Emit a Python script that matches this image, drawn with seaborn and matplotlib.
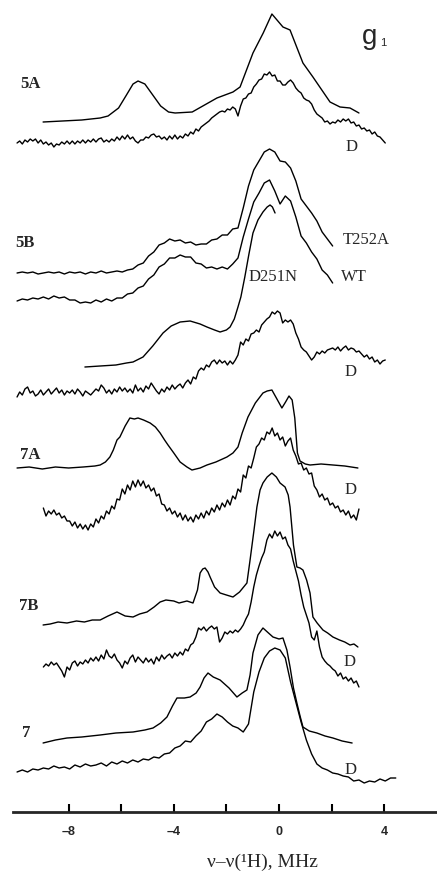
import numpy as np
import matplotlib
matplotlib.use("Agg")
import matplotlib.pyplot as plt
import seaborn as sns

# ---------------- data (frequency offset in MHz, signal in arbitrary units) -------------
sample_labels = ["5A", "5B", "7A", "7B", "7"]
trace_labels = ["D", "T252A", "WT", "D251N", "D", "D", "D", "D"]
tick_values = [-8, -6, -4, -2, 0, 2, 4]
tick_labels = ["\u20138", "", "\u20134", "", "0", "", "4"]

# 5A (upper, smooth)
s5A_x = [-8.97, -7.5, -6.8, -6.5, -6.1, -5.8, -5.55, -5.36, -5.1, -4.8, -4.5, -4.2, -3.95,
         -3.3, -2.36, -1.75, -1.48, -0.99, -0.6, -0.27, 0.15, 0.42, 0.91, 1.29, 1.94, 2.32,
         2.7, 3.04]
s5A_y = [0, 2, 4, 6, 14, 27, 38, 41, 38, 27, 16, 10, 9, 10, 24, 30, 35, 69, 89, 108, 95, 92,
         59, 45, 20, 15, 14, 9]
# 5A deuterated (evenly sampled from -9.96 to 4.04 MHz)
s5A_D_range = (-9.96, 4.04)
s5A_D_y = [0, 2, -1, 3, 1, 4, 2, 4, 0, 3, -1, 1, -2, 0, -4, -1, -2, 1, -1, 2,
           -1, 2, -1, 2, 0, 3, 0, 3, 1, 4, 1, 4, 5, 1, 3, 1, 4, 2, 6, 3,
           7, 4, 8, 4, 6, 2, 0, 3, 3, 6, 5, 8, 9, 6, 7, 4, 6, 3, 7, 4,
           8, 4, 7, 5, 9, 7, 11, 9, 14, 12, 16, 18, 20, 22, 25, 27, 29, 31, 32, 31,
           34, 33, 36, 34, 27, 37, 44, 45, 49, 50, 56, 59, 63, 64, 69, 68, 71, 67, 68, 62,
           62, 58, 58, 61, 63, 60, 55, 52, 50, 45, 43, 42, 39, 33, 29, 27, 25, 21, 22, 19,
           21, 20, 23, 21, 24, 22, 24, 20, 21, 17, 18, 14, 15, 12, 13, 9, 11, 7, 6, 3,
           0]
# 5B T252A (-9.96 .. 2.04)
s5B_T252A_range = (-9.96, 2.04)
s5B_T252A_y = [0, 1, 0, 1, -1, 0, 1, 0, 1, -1, 1, 0, 1, -1, 1, 0, 2, 0, 1, 2,
               1, 3, 4, 8, 10, 17, 21, 28, 30, 34, 32, 33, 30, 31, 28, 29, 29, 33, 34, 38,
               38, 44, 45, 65, 87, 103, 112, 121, 124, 121, 112, 111, 105, 92, 74, 67, 60, 52, 41, 34,
               27]
# 5B WT (-9.96 .. 2.04)
s5B_WT_range = (-9.96, 2.04)
s5B_WT_y = [-1, 1, 0, 2, 1, 3, 1, 4, 2, 3, 0, 0, -3, -2, -3, 0, -2, 1, -1, 2,
            2, 6, 7, 12, 14, 21, 25, 33, 36, 42, 42, 45, 43, 43, 37, 36, 32, 33, 31, 33,
            31, 36, 42, 63, 81, 98, 107, 117, 120, 109, 96, 104, 99, 83, 64, 57, 48, 41, 30, 25,
            17]
# 5B D251N (smooth)
s5B_D251N_x = [-7.38, -6.8, -6.2, -5.8, -5.55, -5.17, -4.8, -4.41, -4.1, -3.76, -3.38, -3.0,
               -2.74, -2.45, -2.24, -2.0, -1.86, -1.7, -1.56, -1.45, -1.3, -1.15, -0.99, -0.8,
               -0.61, -0.45, -0.34, -0.25, -0.15]
s5B_D251N_y = [0, 1, 2, 4, 5, 10, 21, 34, 41, 45, 46, 43, 40, 37, 35, 37, 40, 48, 60, 70, 90,
               112, 134, 147, 155, 160, 162, 160, 154]
# 5B deuterated (-9.96 .. 4.04)
s5B_D_range = (-9.96, 4.04)
s5B_D_y = [0, 5, 2, 8, 10, 4, 6, 1, 3, 7, 2,
           5, 8, 3, 6, 9, 4, 7, 2, 6, 4,
           7, 3, 8, 5, 1, 6, 4, 2, 5, 8,
           6, 12, 9, 4, 7, 3, 8, 5, 10, 6,
           9, 5, 8, 4, 12, 6, 9, 5, 11, 8,
           14, 10, 6, 3, 8, 5, 10, 7, 12, 8,
           11, 13, 9, 14, 17, 13, 20, 18, 26, 29,
           27, 32, 30, 35, 37, 33, 37, 34, 36, 32,
           36, 33, 37, 42, 55, 52, 58, 56, 63, 64,
           67, 65, 72, 75, 78, 80, 85, 83, 86, 84,
           74, 77, 75, 77, 73, 64, 58, 50, 47, 45,
           41, 37, 40, 45, 43, 46, 44, 47, 48, 49,
           47, 50, 46, 49, 51, 47, 49, 48, 45, 46,
           43, 40, 42, 38, 40, 35, 37, 33, 36, 37]
# 7A (smooth)
s7A_x = [-9.96, -9.5, -9.0, -8.5, -8.0, -7.45, -7.0, -6.8, -6.6, -6.43, -6.3, -6.16, -6.05,
         -5.85, -5.67, -5.5, -5.36, -5.15, -4.9, -4.7, -4.52, -4.35, -4.22, -4.0, -3.76, -3.5,
         -3.31, -3.0, -2.74, -2.4, -1.98, -1.75, -1.56, -1.4, -1.18, -0.9, -0.61, -0.45, -0.27,
         -0.1, 0.11, 0.25, 0.38, 0.5, 0.6, 0.7, 0.8, 1.0, 1.18, 1.6, 2.05, 2.5, 3.0]
s7A_y = [0, 1, -1, 1, 0, 1, 2, 3, 6, 11, 18, 28, 31, 42, 50, 49, 50, 48, 45, 41, 35, 28, 23,
         15, 6, 1, -2, 0, 3, 6, 11, 15, 21, 35, 51, 65, 75, 77, 78, 70, 60, 66, 72, 68, 50,
         15, 7, 4, 3, 4, 3, 2, 0]
# 7A deuterated (-8.96 .. 3.04)
s7A_D_range = (-8.96, 3.04)
s7A_D_y = [0, -8, -3, -6, -2, -7, -5, -10, -8, -13,
           -13, -18, -14, -20, -16, -21, -17, -22, -16, -19,
           -11, -15, -8, -11, -3, -6, 2, -1, 9, 8,
           19, 14, 23, 18, 27, 21, 28, 22, 27, 20,
           23, 17, 20, 12, 14, 4, 3, -3, 0, -6,
           -3, -9, -5, -12, -7, -13, -9, -14, -7, -11,
           -5, -10, -3, -7, 0, -4, 3, -2, 5, 1,
           8, 3, 12, 9, 19, 16, 33, 30, 42, 40,
           50, 61, 64, 70, 68, 76, 74, 80, 72, 75,
           68, 71, 62, 67, 70, 58, 52, 44, 45, 38,
           40, 34, 35, 22, 18, 11, 14, 8, 10, 3,
           5, 0, 2, -4, -2, -7, -3, -10, -7, -12,
           -1]
# 7B (upper)
s7B_x = [-8.97, -8.7, -8.4, -8.06, -7.7, -7.4, -7.1, -6.8, -6.5, -6.16, -5.85, -5.55, -5.3,
         -5.02, -4.75, -4.52, -4.3, -4.0, -3.8, -3.5, -3.27, -3.1, -3.0, -2.9, -2.81, -2.7,
         -2.62, -2.45, -2.24, -2.0, -1.75, -1.5, -1.22, -1.1, -0.95, -0.84, -0.72, -0.61, -0.45,
         -0.27, -0.1, 0.04, 0.23, 0.35, 0.42, 0.55, 0.68, 0.8, 0.91, 1.05, 1.18, 1.29, 1.45,
         1.67, 1.85, 2.05, 2.3, 2.5, 2.7, 2.85, 3.0]
s7B_y = [0, 1, 3, 2, 4, 3, 5, 5, 9, 13, 9, 8, 11, 13, 18, 23, 25, 24, 22, 24, 22, 35, 52, 56,
         57, 53, 48, 38, 32, 30, 28, 33, 42, 65, 95, 118, 135, 142, 148, 152, 148, 142, 138,
         130, 118, 80, 58, 57, 55, 45, 32, 8, 2, -5, -8, -12, -15, -17, -20, -19, -22]
# 7B deuterated (-8.96 .. 3.04)
s7B_D_range = (-8.96, 3.04)
s7B_D_y = [0, 3, 1, 5, 2, 4, 0, -4, -10, 0,
           -3, 4, 6, 1, 5, 3, 7, 4, 9, 6,
           10, 6, 12, 8, 17, 11, 9, 13, 7, 4,
           -1, 6, 3, 9, 12, 5, 10, 7, 4, 9,
           5, 8, 3, 10, 6, 12, 8, 11, 13, 9,
           14, 11, 15, 12, 18, 16, 22, 24, 30, 39,
           37, 40, 36, 39, 41, 38, 40, 25, 29, 35,
           33, 36, 34, 37, 35, 38, 42, 48, 53, 65,
           80, 92, 101, 109, 115, 127, 133, 129, 136, 131,
           135, 128, 130, 122, 118, 106, 96, 86, 72, 60,
           52, 44, 30, 27, 36, 20, 10, 6, 3, 1,
           -2, -4, -9, -6, -12, -10, -14, -11, -16, -14,
           -20]
# 7 (upper)
s7_x = [-8.97, -8.5, -8.06, -7.5, -6.8, -6.2, -5.55, -5.1, -4.79, -4.5, -4.26, -4.05, -3.88,
        -3.6, -3.38, -3.15, -3.0, -2.85, -2.7, -2.5, -2.24, -1.9, -1.6, -1.4, -1.22, -1.1,
        -0.99, -0.8, -0.61, -0.4, -0.23, 0.0, 0.15, 0.3, 0.42, 0.55, 0.68, 0.8, 0.91, 1.15,
        1.44, 1.75, 2.05, 2.4, 2.78]
s7_y = [0, 3, 5, 6, 8, 10, 11, 13, 15, 20, 26, 37, 45, 45, 46, 50, 56, 65, 70, 66, 63, 55, 46,
        50, 53, 68, 90, 108, 115, 110, 106, 104, 105, 93, 76, 55, 40, 27, 16, 12, 10, 7, 5, 2, 0]
# 7 deuterated (-9.96 .. 4.44)
s7_D_range = (-9.96, 4.44)
s7_D_y = [0, 2, 0, 3, 2, 4, 3, 6, 4, 5, 3, 7, 5, 8, 6, 7, 9, 6, 10, 8,
          11, 9, 12, 10, 13, 12, 15, 14, 18, 19, 24, 26, 31, 30, 36, 41, 50, 53, 58, 55,
          50, 46, 44, 40, 48, 80, 100, 114, 121, 124, 122, 114, 90, 70, 50, 32, 18, 8, 4, 2,
          -1, -2, -4, -5, -9, -8, -11, -9, -10, -7, -9, -6, -6]

# ---------------- figure ----------------
sns.set_style("white")
plt.rcParams["font.family"] = ["Liberation Serif", "DejaVu Serif"]

W, H = 437, 876
fig = plt.figure(figsize=(W / 100, H / 100), dpi=100)
AX_L, AX_B = 13, 812          # axis line left end and height (pixels)
ZERO_PX, PX_PER_MHZ = 279, 26.3
ax = fig.add_axes([AX_L / W, (H - AX_B) / H, (W - AX_L) / W, AX_B / H])
ax.set_xlim((AX_L - ZERO_PX) / PX_PER_MHZ, (W - ZERO_PX) / PX_PER_MHZ)
ax.set_ylim(0, AX_B)


def xs(spec, n):
    if isinstance(spec, tuple):
        return np.linspace(spec[0], spec[1], n)
    return np.asarray(spec, dtype=float)


traces = [
    (s5A_x, s5A_y, 690), (s5A_D_range, s5A_D_y, 669),
    (s5B_T252A_range, s5B_T252A_y, 539), (s5B_WT_range, s5B_WT_y, 512),
    (s5B_D251N_x, s5B_D251N_y, 445), (s5B_D_range, s5B_D_y, 415),
    (s7A_x, s7A_y, 344), (s7A_D_range, s7A_D_y, 304),
    (s7B_x, s7B_y, 187), (s7B_D_range, s7B_D_y, 145),
    (s7_x, s7_y, 69), (s7_D_range, s7_D_y, 40),
]
for xspec, yv, off in traces:
    x = xs(xspec, len(yv))
    y = off + np.asarray(yv, dtype=float)
    sns.lineplot(x=x, y=y, ax=ax, color="black", linewidth=1.0,
                 estimator=None, sort=False)

for s in ["top", "left", "right"]:
    ax.spines[s].set_visible(False)
ax.spines["bottom"].set_linewidth(2.0)
ax.set_yticks([])
ax.set_xticks(tick_values)
ax.set_xticklabels(tick_labels)
ax.tick_params(axis="x", bottom=True, direction="in", length=6, width=1.5,
               pad=10, labelsize=9, color="black")
for lab in ax.get_xticklabels():
    lab.set_fontfamily("Liberation Sans")
    lab.set_fontweight("bold")
ax.set_xlabel("")


def ftext(px, py, s, **kw):
    fig.text(px / W, 1 - py / H, s, ha="center", va="center", **kw)


# sample labels (bold serif)
for (px, py), s in zip([(30, 84), (25, 243), (30, 455), (29, 606), (26, 733)], sample_labels):
    ftext(px, py, s, fontsize=12, fontweight="bold")
# trace labels
for (px, py), s in zip([(352, 147), (366, 240), (354, 277), (273, 277),
                        (351, 372), (351, 490), (350, 662), (351, 770)], trace_labels):
    ftext(px, py, s, fontsize=12)

ftext(370, 37, "g", fontsize=20, family="Liberation Sans")
ftext(383, 43, "1", fontsize=8, family="Liberation Sans")
ftext(262, 862, "\u03bd\u2013\u03bd(\u00b9H), MHz", fontsize=14)

fig.savefig("out.png", dpi=100)
